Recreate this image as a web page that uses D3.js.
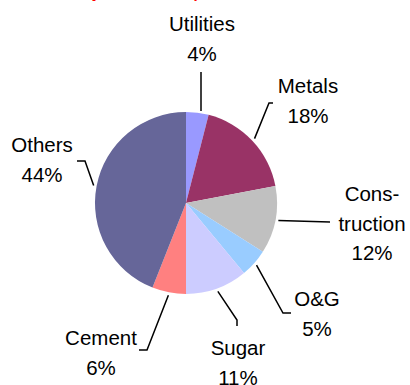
<!DOCTYPE html>
<html>
<head>
<meta charset="utf-8">
<script src="https://cdn.jsdelivr.net/npm/d3@7"></script>
<style>
  html, body { margin: 0; padding: 0; background: #fff; }
  svg { display: block; }
  text { font-family: "Liberation Sans", Arial, sans-serif; fill: #000; }
</style>
</head>
<body>
<svg id="chart" width="410" height="385"></svg>
<script>
// Sector shares of the loan book (%), clockwise from 12 o'clock
const sectors = ["Utilities", "Metals", "Construction", "O&G", "Sugar", "Cement", "Others"];
const shares = [4, 18, 12, 5, 11, 6, 44];
const sliceColors = ["#9999ff", "#993366", "#c0c0c0", "#99ccff", "#ccccff", "#ff8080", "#666699"];
// Label text lines per sector (Construction is hyphenated over two lines)
const labelLines = [["Utilities"], ["Metals"], ["Cons-", "truction"], ["O&G"], ["Sugar"], ["Cement"], ["Others"]];

const svg = d3.select("#chart");
const cx = 186, cy = 203, radius = 91;

// Title strip above the chart
svg.append("text")
  .attr("x", 41).attr("y", -2)
  .style("font-weight", "bold").style("font-size", "15px").style("fill", "#ff0000")
  .text("Industry-wise loan exposure");

const pie = d3.pie().sort(null).value(d => d)(shares);
const arc = d3.arc().innerRadius(0).outerRadius(radius);

const g = svg.append("g").attr("transform", `translate(${cx},${cy})`);
g.selectAll("path.slice")
  .data(pie)
  .join("path")
  .attr("class", "slice")
  .attr("d", arc)
  .attr("fill", (d, i) => sliceColors[i]);

// Label layout: leader elbow points and label centre / first baseline
const layout = {
  "Utilities":    { path: [[201, 72]],              x: 202, y: 31 },
  "Metals":       { path: [[269, 103], [273, 103]], x: 308, y: 93 },
  "Construction": { path: [[330, 222]],             x: 372, y: 201 },
  "O&G":          { path: [[283, 313], [291, 313]], x: 317, y: 306 },
  "Sugar":        { path: [[237, 320], [237, 326]], x: 238, y: 355 },
  "Cement":       { path: [[147, 350], [139, 350]], x: 101, y: 345 },
  "Others":       { path: [[85, 161], [77, 161]],   x: 42,  y: 152 }
};
const lineGap = 29.5;

pie.forEach((d, i) => {
  const name = sectors[i];
  const L = layout[name];
  const mid = (d.startAngle + d.endAngle) / 2;
  const rr = radius + 3;
  let start = [cx + rr * Math.sin(mid), cy - rr * Math.cos(mid)];
  if (name === "Utilities") start = [L.path[0][0], cy - radius - 1];
  const pts = [start].concat(L.path);
  svg.append("path")
    .attr("d", d3.line()(pts))
    .attr("fill", "none")
    .attr("stroke", "#000")
    .attr("stroke-width", 1.5);

  const lines = labelLines[i].concat([shares[i] + "%"]);
  const t = svg.append("text")
    .attr("text-anchor", "middle")
    .style("font-size", "20.5px");
  lines.forEach((s, k) => {
    t.append("tspan").attr("x", L.x).attr("y", L.y + k * lineGap).text(s);
  });
});
</script>
</body>
</html>
